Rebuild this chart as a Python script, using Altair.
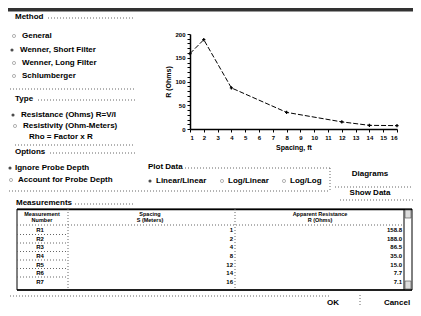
import altair as alt
import pandas as pd

# ---- data ----
spacing = [1, 2, 4, 8, 12, 14, 16]
resistance = [158.8, 188.0, 86.5, 35.0, 15.0, 7.7, 7.1]
row_labels = ["R1", "R2", "R3", "R4", "R5", "R6", "R7"]
x_ticks = list(range(1, 17))
y_ticks = list(range(0, 201, 10))

method_options = ["General", "Wenner, Short Filter", "Wenner, Long Filter", "Schlumberger"]
type_options = ["Resistance (Ohms) R=V/I", "Resistivity (Ohm-Meters)"]
option_options = ["Ignore Probe Depth", "Account for Probe Depth"]
plot_options = ["Linear/Linear", "Log/Linear", "Log/Log"]

OX, OY = 190, 34  # page position of plot origin
FONT = "Liberation Sans"
one = alt.Data(values=[{"a": 1}])


def txt(s, x, y, size=8, align="left", bold=True, color="black"):
    return alt.Chart(one).mark_text(
        text=s, align=align, baseline="middle", fontSize=size, font=FONT,
        fontWeight="bold" if bold else "normal", color=color,
    ).encode(x=alt.value(x - OX), y=alt.value(y - OY))


def hline(x1, x2, y, dotted=True, color="#666", w=1):
    kw = dict(color=color, strokeWidth=w)
    if dotted:
        kw["strokeDash"] = [1, 2]
    return alt.Chart(one).mark_rule(**kw).encode(
        x=alt.value(x1 - OX), x2=alt.value(x2 - OX), y=alt.value(y - OY))


def vline(x, y1, y2, dotted=True, color="#666", w=1):
    kw = dict(color=color, strokeWidth=w)
    if dotted:
        kw["strokeDash"] = [1, 2]
    return alt.Chart(one).mark_rule(**kw).encode(
        x=alt.value(x - OX), y=alt.value(y1 - OY), y2=alt.value(y2 - OY))


def rect(x1, x2, y1, y2, fill="white", stroke="black", w=1):
    return alt.Chart(one).mark_rect(fill=fill, stroke=stroke, strokeWidth=w).encode(
        x=alt.value(x1 - OX), x2=alt.value(x2 - OX),
        y=alt.value(y1 - OY), y2=alt.value(y2 - OY))


def radio(x, y, sel):
    return alt.Chart(one).mark_point(
        shape="circle", size=10, filled=sel, color="black" if sel else "#777",
        strokeWidth=0.8).encode(x=alt.value(x - OX), y=alt.value(y - OY))


layers = []

# title bar strip
layers.append(rect(0, 420, 8, 11, fill="#333", stroke="#333"))

# Method group
layers.append(txt("Method", 15, 17))
layers.append(hline(48, 135, 18))
my = [36, 50, 63, 76]
mx = [22, 20, 22, 22]
for i, s in enumerate(method_options):
    layers.append(radio(mx[i] - 8, my[i], i == 1))
    layers.append(txt(s, mx[i], my[i]))
layers.append(hline(10, 135, 89))

# Type group
layers.append(txt("Type", 15, 99))
layers.append(hline(38, 135, 100))
layers.append(radio(13, 115, True))
layers.append(txt(type_options[0], 21, 115))
layers.append(radio(15, 126, False))
layers.append(txt(type_options[1], 23, 126))
layers.append(txt("Rho = Factor x R", 29, 137))
layers.append(hline(15, 135, 145))

# Options group
layers.append(txt("Options", 15, 152))
layers.append(hline(50, 135, 153))
layers.append(radio(10, 168, True))
layers.append(txt(option_options[0], 15, 168))
layers.append(radio(11, 180, False))
layers.append(txt(option_options[1], 18, 180))

# Plot data group
layers.append(txt("Plot Data", 148, 167))
layers.append(hline(185, 330, 168))
layers.append(vline(330, 168, 190))
px_ = [156, 228, 290]
for i, s in enumerate(plot_options):
    layers.append(radio(px_[i] - 6, 181, i == 0))
    layers.append(txt(s, px_[i], 181))
layers.append(hline(3, 330, 191))

# Buttons right
layers.append(txt("Diagrams", 370, 174, align="center"))
layers.append(hline(335, 415, 187))
layers.append(txt("Show Data", 370, 193, align="center"))
layers.append(hline(340, 415, 200))

# Measurements
layers.append(txt("Measurements", 16, 203))
layers.append(hline(75, 135, 204))

# Table frame
layers.append(rect(17, 412, 209, 290, fill="white", stroke="black", w=1))
layers.append(hline(17, 412, 209.5, dotted=False, color="black", w=1.5))
layers.append(hline(17, 412, 290, dotted=False, color="black", w=1.5))
layers.append(vline(68, 209, 290))
layers.append(vline(235, 209, 290))
layers.append(vline(404, 209, 290, dotted=False, color="black"))
layers.append(hline(17, 404, 225))
for yy in [234.5, 243, 251.5, 260, 268.5, 277]:
    layers.append(hline(17, 68, yy))
layers.append(rect(405, 411, 210, 218, fill="#ddd", stroke="#444", w=0.6))
layers.append(rect(405, 411, 281, 289, fill="#ddd", stroke="#444", w=0.6))
layers.append(txt("Measurement", 42, 213.5, size=5.5, align="center"))
layers.append(txt("Number", 42, 220, size=5.5, align="center"))
layers.append(txt("Spacing", 150, 213.5, size=5.5, align="center"))
layers.append(txt("S (Meters)", 150, 220, size=5.5, align="center"))
layers.append(txt("Apparent Resistance", 320, 213.5, size=5.5, align="center"))
layers.append(txt("R (Ohms)", 320, 220, size=5.5, align="center"))

tdf = pd.DataFrame({"label": row_labels, "row": list(range(1, 8)),
                    "S": spacing, "R": resistance})
ty = alt.Y("row:Q", scale=alt.Scale(domain=[1, 7], range=[230 - OY, 282 - OY]), axis=None)
tbase = alt.Chart(tdf)
layers.append(tbase.mark_text(align="center", baseline="middle", fontSize=6, font=FONT,
                              fontWeight="bold", color="black").encode(
    x=alt.value(40 - OX), y=ty, text="label:N"))
layers.append(tbase.mark_text(align="right", baseline="middle", fontSize=6, font=FONT,
                              fontWeight="bold", color="black").encode(
    x=alt.value(233 - OX), y=ty, text="S:Q"))
layers.append(tbase.mark_text(align="right", baseline="middle", fontSize=6, font=FONT,
                              fontWeight="bold", color="black").encode(
    x=alt.value(402 - OX), y=ty, text=alt.Text("R:Q", format=".1f")))

# bottom buttons
layers.append(hline(10, 330, 296))
layers.append(txt("OK", 333, 303, align="center"))
layers.append(vline(360, 295, 307))
layers.append(txt("Cancel", 397, 303, align="center"))

# ---- the plot ----
df = pd.DataFrame({"Spacing": spacing, "R": resistance})
base = alt.Chart(df)
xenc = alt.X("Spacing:Q", scale=alt.Scale(domain=[1, 16], nice=False, zero=False),
             axis=alt.Axis(values=x_ticks, title="Spacing, ft", format="d"))
yenc = alt.Y("R:Q", scale=alt.Scale(domain=[0, 200], nice=False),
             axis=alt.Axis(values=y_ticks, title="R (Ohms)",
                           labelExpr="datum.value % 50 == 0 ? datum.label : ''"))
line = base.mark_line(
    color="black", strokeWidth=1, strokeDash=[5, 2],
    point=alt.OverlayMarkDef(shape="cross", size=10, filled=True, color="black"),
).encode(x=xenc, y=yenc)

chart = alt.layer(*layers, line).resolve_scale(y="independent").properties(
    width=207, height=95,
    autosize=alt.AutoSizeParams(type="none"),
    padding={"left": 182, "top": 26, "right": 16, "bottom": 177},
    background="white",
).configure_view(stroke=None).configure_axis(
    grid=False, domainColor="black", domainWidth=1.5, tickColor="black", tickSize=3,
    labelFont=FONT, labelFontSize=6, labelFontWeight="bold", labelColor="black",
    titleFont=FONT, titleFontSize=7, titleFontWeight="bold", titleColor="black",
    labelPadding=2, titlePadding=3,
)

chart.save("out.html", embed_options={"renderer": "svg", "actions": False})
